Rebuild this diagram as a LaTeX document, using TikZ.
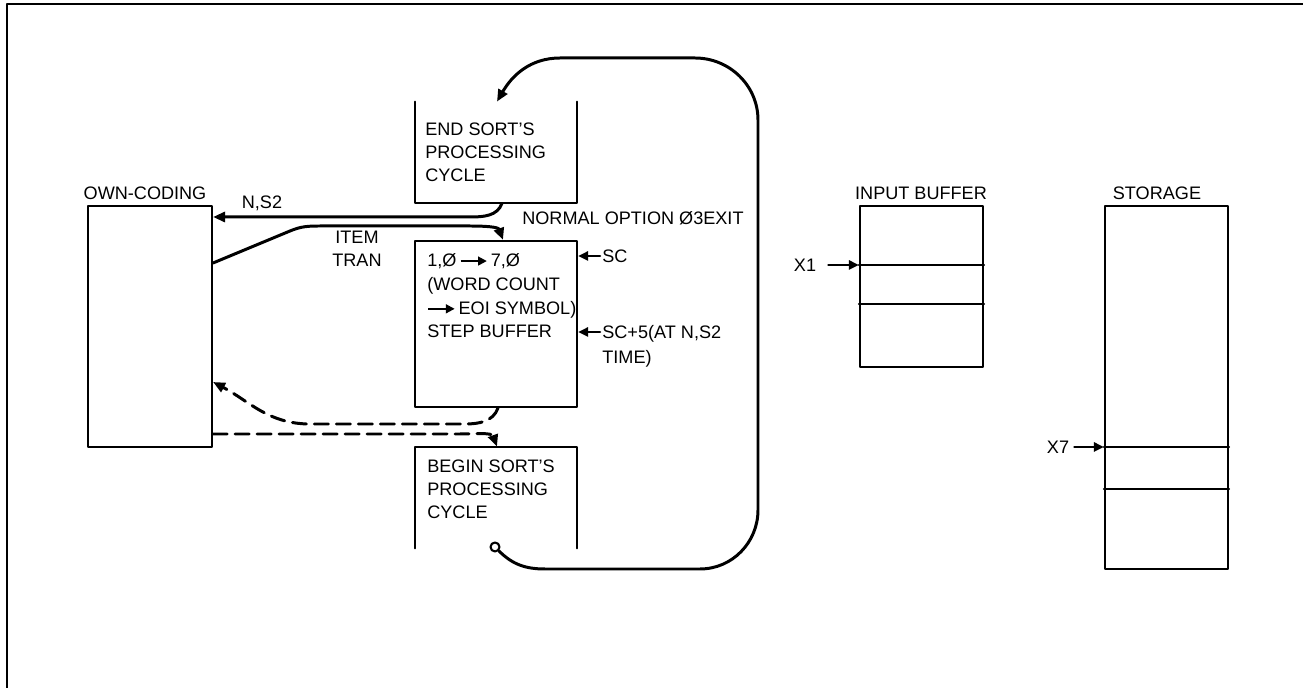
\documentclass[tikz,border=0pt]{standalone}
\usepackage{fontspec}
\setmainfont{Liberation Sans}
\usetikzlibrary{arrows.meta,fit}
\newcommand{\rarrow}{\tikz[baseline=-0.55ex]\draw[line width=1.1pt,-{Triangle[length=5pt,width=5pt]}] (0pt,0pt) -- (15pt,0pt);\,}

\begin{document}
\begin{tikzpicture}[x=0.02cm, y=-0.02cm, line cap=round, line join=round,
    box/.style={draw, line width=1.2pt, inner sep=0pt},
    area/.style={inner sep=0pt},
    edge/.style={line width=1.2pt},
    lbl/.style={inner sep=0pt, font=\fontsize{10.3}{13}\selectfont},
    arr/.style={line width=1.7pt, -{Triangle[length=0.24cm,width=0.2cm]}},
    dasharr/.style={arr, dash pattern=on 0.28cm off 0.16cm},
    ptr/.style={line width=1.5pt, -{Triangle[length=0.2cm,width=0.18cm]}}]
  \useasboundingbox (0,0) rectangle (1303,688);
  \draw[line width=1.6pt] (7,688) -- (7,4) -- (1303,4);

  % own-coding
  \node[box, fit={(88,206) (212,447)}] (own) {};
  \node[lbl] (ownlbl) at (145,193) {OWN-CODING};

  % sort's cycle
  \node[area, fit={(415,102) (577,203)}] (endsort) {};
  \draw[edge] (endsort.north west) -- (endsort.south west) -- (endsort.south east) -- (endsort.north east);
  \node[lbl, align=left, anchor=north west] (endtxt) at (425,123) {END SORT'S\\PROCESSING\\CYCLE};

  \node[box, fit={(415,241) (577,407)}] (step) {};
  \node[lbl, align=left, anchor=north west, font=\fontsize{10.3}{13.6}\selectfont] (steptxt) at (427,253)
    {1,Ø\,\rarrow7,Ø\\(WORD COUNT\\\rarrow EOI SYMBOL)\\STEP BUFFER};

  \node[area, fit={(415,447) (577,548)}] (beginsort) {};
  \draw[edge] (beginsort.south west) -- (beginsort.north west) -- (beginsort.north east) -- (beginsort.south east);
  \node[lbl, align=left, anchor=north west] (begintxt) at (427,460) {BEGIN SORT'S\\PROCESSING\\CYCLE};
  \node[draw, circle, line width=1.2pt, inner sep=0pt, minimum size=0.18cm] (ret) at (495,547) {};

  % buffers
  \node[box, fit={(860,206) (983,367)}] (ibuf) {};
  \node[lbl] (ibuflbl) at (921,193) {INPUT BUFFER};
  \foreach \yy in {265,304}
    \draw[edge] (ibuf.west |- 0,\yy) -- (ibuf.east |- 0,\yy);
  \node[box, fit={(1105,206) (1228,569)}] (store) {};
  \node[lbl] (storelbl) at (1157,193) {STORAGE};
  \foreach \yy in {447,489}
    \draw[edge] (store.west |- 0,\yy) -- (store.east |- 0,\yy);

  \node[lbl] (xone) at (805,265) {X1};
  \draw[ptr, shorten <=0.24cm] (xone.east) -- (ibuf.west |- xone);
  \node[lbl] (xseven) at (1058,447) {X7};
  \draw[ptr, shorten <=0.1cm] (xseven.east) -- (store.west |- xseven);

  % labels
  \node[lbl] (ns) at (262,203) {N,S2};
  \node[lbl, align=center] (item) at (357,249) {ITEM\\TRAN};
  \node[lbl, anchor=west] (exit) at (522,218) {NORMAL OPTION Ø3EXIT};
  \node[lbl, anchor=west] (sc) at (602,256) {SC};
  \node[lbl, align=left, anchor=north west, font=\fontsize{10.3}{14}\selectfont] (scfive) at (602,325) {SC+5(AT N,S2\\TIME)};
  \draw[ptr, shorten <=0.04cm] (sc.west) -- (step.east |- sc);
  \draw[ptr, shorten <=0.04cm] (scfive.west |- 0,332) -- (step.east |- 0,332);

  % connectors
  \draw[arr] ([xshift=0.12cm]endsort.south) to[out=-110,in=0] (470,217) -- (own.east |- 0,217);
  \draw[arr] (own.east |- 0,263) -- (290,231) to[out=23,in=180] (320,226) -- (470,226)
    to[out=0,in=110] ([xshift=0.14cm]step.north);
  \draw[dasharr] ([xshift=0.04cm]step.south) to[out=-110,in=0] (465,424) -- (310,424)
    to[out=180,in=-28] (own.east |- 0,382);
  \draw[dasharr] (own.east |- 0,434) -- (460,434) to[out=0,in=110] ([xshift=0.02cm]beginsort.north);
  \draw[arr] (ret) to[out=-45,in=180] (545,569) -- (700,569) to[out=0,in=-90] (758,510) -- (758,120)
    to[out=90,in=0] (695,58) -- (560,58) to[out=180,in=60] ([xshift=0.02cm]endsort.north);
\end{tikzpicture}
\end{document}
